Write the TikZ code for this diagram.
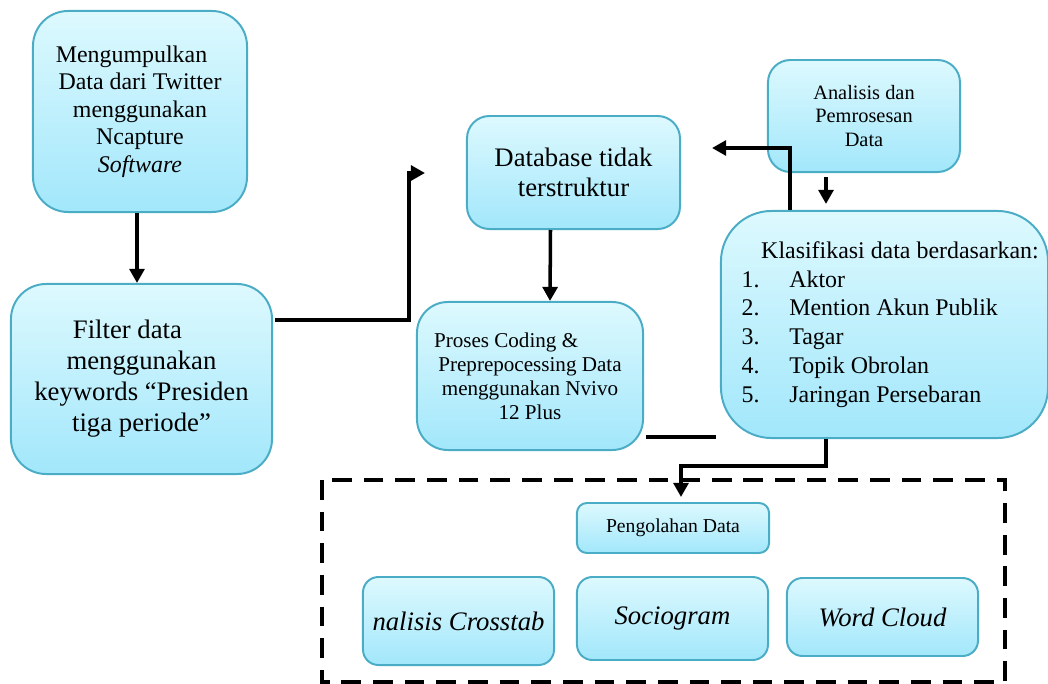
\documentclass[tikz,border=0pt]{standalone}
\usepackage{fontspec}
\setmainfont{Liberation Serif}
\usepackage{xcolor}
\usepackage{tikz}
\usetikzlibrary{positioning, arrows.meta, calc}
\definecolor{bTop}{HTML}{DDF9FE}
\definecolor{bBot}{HTML}{A2E7FB}
\definecolor{bLine}{HTML}{4BACC6}
\begin{document}
\begin{tikzpicture}[x=0.025cm, y=-0.025cm, >={Triangle[length=10pt,width=10.5pt]},
        pbox/.style={draw=bLine, line width=1.4pt, top color=bTop, bottom color=bBot,
          align=center, inner sep=2pt},
        arr/.style={->, line width=2.5pt, black},
        ln/.style={line width=2.5pt, black}]
      \useasboundingbox (0,0) rectangle (1048,684);
      \node[pbox, rounded corners=25pt, minimum width=5.35cm, minimum height=5.025cm,
        font=\fontsize{17}{19.5}\selectfont] (mk) at (140,111.5)
        {Mengumpulkan\hspace*{12pt}\\ Data dari Twitter\\ menggunakan\\ Ncapture\\ \textit{Software}};
      \node[pbox, rounded corners=25pt, minimum width=6.525cm, minimum height=4.75cm,
        font=\fontsize{19}{22}\selectfont] (flt) at (141.5,379)
        {Filter data\hspace*{20pt}\\ menggunakan\\ keywords “Presiden\\ tiga periode”};
      \node[pbox, rounded corners=16pt, minimum width=5.325cm, minimum height=2.825cm,
        font=\fontsize{19}{21.5}\selectfont] (db) at (573.5,172.5)
        {Database tidak\\ terstruktur};
      \node[pbox, rounded corners=22pt, minimum width=5.65cm, minimum height=3.7cm,
        font=\fontsize{15}{17}\selectfont] (pc) at (530,376)
        {Proses Coding \&\hspace*{34pt}\\ Preprepocessing Data\\ menggunakan Nvivo\\ 12 Plus};
      \node[pbox, rounded corners=16pt, minimum width=4.8cm, minimum height=2.8cm,
        font=\fontsize{14.5}{17}\selectfont] (an) at (864,116)
        {Analisis dan\\ Pemrosesan\\ Data};
      \node[pbox, rounded corners=36pt, minimum width=8.175cm, minimum height=5.675cm,
        align=left, font=\fontsize{17}{20.5}\selectfont] (kl) at (884.5,324.5)
        {\hspace*{22pt}Klasifikasi data berdasarkan:\\
         \hspace*{8pt}\makebox[34pt][l]{1.}Aktor\\
         \hspace*{8pt}\makebox[34pt][l]{2.}Mention Akun Publik\\
         \hspace*{8pt}\makebox[34pt][l]{3.}Tagar\\
         \hspace*{8pt}\makebox[34pt][l]{4.}Topik Obrolan\\
         \hspace*{8pt}\makebox[34pt][l]{5.}Jaringan Persebaran};
      % bagian pengolahan data
      \draw[line width=2.8pt, dash pattern=on 14pt off 8.5pt] (322,480) rectangle (1005,682);
      \node[pbox, rounded corners=7pt, minimum width=4.8cm, minimum height=1.25cm,
        font=\fontsize{14}{16}\selectfont] (pg) at (673,528) {Pengolahan Data};
      \node[pbox, rounded corners=11pt, minimum width=4.775cm, minimum height=2.2cm,
        font=\fontsize{19}{22}\selectfont\itshape] (ct) at (458.5,621) {nalisis Crosstab};
      \node[pbox, rounded corners=11pt, minimum width=4.775cm, minimum height=2.075cm,
        font=\fontsize{19}{22}\selectfont\itshape] (sg) at (672.5,618.5) {Sociogram};
      \node[pbox, rounded corners=11pt, minimum width=4.775cm, minimum height=1.95cm,
        font=\fontsize{19}{22}\selectfont\itshape] (wc) at (882.5,617) {Word Cloud};
      % ujung bebas
      \coordinate (e1) at (425,173);
      \coordinate (e2) at (712,148);
      \coordinate (e3) at (716,437);
      \draw[arr] ($(mk.south)+(-3,0)$) -- ($(mk.south |- flt.north)+(-3,0)$);
      \draw[arr] ($(flt.east)+(2,-59)$) -- ++(134,0) |- (e1);
      \draw[arr] ($(db.south)+(-23,0)$) -- ($(pc.north)+(20,0)$);
      \draw[arr] ($(an.south)+(-38,4)$) -- ($(kl.north)+(-58.5,-6)$);
      \draw[arr] ($(kl.north)+(-94.5,0)$) |- (e2);
      \draw[ln] ($(pc.east)+(2,61)$) -- (e3);
      \draw[arr] ($(kl.south)+(-58.5,0)$) -- ++(0,27) -| ($(pg.north)+(8,-5)$);
    \end{tikzpicture}
\end{document}
